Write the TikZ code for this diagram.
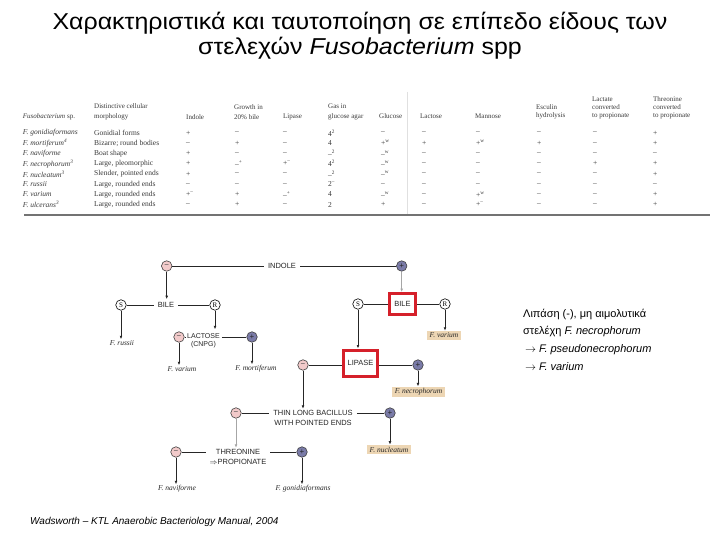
\documentclass[tikz,border=0pt]{standalone}
\usepackage{fontspec}
\setmainfont{Liberation Sans}
\newfontfamily\serifT{Liberation Serif}
\usetikzlibrary{arrows.meta}
\definecolor{minusfill}{HTML}{F2CACA}
\definecolor{plusfill}{HTML}{7A7BA8}
\definecolor{tanbox}{HTML}{EDD6B4}
\definecolor{redbox}{HTML}{D5202A}
\definecolor{tabink}{HTML}{3A3A3A}
\tikzset{
  every node/.style={inner sep=0pt},
  mcirc/.style={circle,draw=black!75,line width=0.6pt,fill=minusfill,minimum size=10.5pt,font=\fontsize{8}{8}\selectfont,text=black!70},
  pcirc/.style={circle,draw=black!75,line width=0.6pt,fill=plusfill,minimum size=10.5pt,font=\fontsize{8}{8}\selectfont,text=black!85},
  lcirc/.style={circle,draw=black,line width=0.6pt,fill=white,minimum size=10.5pt,font=\serifT\fontsize{7}{7}\selectfont},
  keytext/.style={font=\fontsize{7.5}{10}\selectfont,align=center,inner xsep=4pt,inner ysep=1pt,text=black!85},
  spname/.style={font=\serifT\itshape\fontsize{7.5}{8}\selectfont,inner sep=1pt,text=black!85},
  spbox/.style={spname,fill=tanbox,inner xsep=3pt,inner ysep=2pt},
  redframe/.style={keytext,draw=redbox,line width=3pt},
  conn/.style={line width=0.8pt,draw=black!85},
  arr/.style={conn,-{Latex[length=3.5pt,width=2.8pt]}},
  farr/.style={arr,draw=black!35},
  thl/.style={font=\serifT\fontsize{7}{10}\selectfont,text=tabink,anchor=south west,align=left},
  thr/.style={font=\serifT\fontsize{7}{8}\selectfont,text=tabink,anchor=south west,align=left},
  td/.style={font=\serifT\fontsize{7.5}{8}\selectfont,text=tabink,anchor=west},
  titlefont/.style={font=\fontsize{23}{27}\selectfont},
  notefont/.style={font=\fontsize{11}{13}\selectfont,anchor=base west},
}
\begin{document}
\begin{tikzpicture}[x=1pt,y=-1pt]
\useasboundingbox (0,0) rectangle (720,540);
\fill[white] (0,0) rectangle (720,540);

% ---------- title ----------
\node[titlefont,anchor=base] (title1) at (360,30) {\scalebox{1.085}[1]{Χαρακτηριστικά και ταυτοποίηση σε επίπεδο είδους των}};
\node[titlefont,anchor=base] (title2) at (360,55) {\scalebox{1.085}[1]{στελεχών \textit{Fusobacterium} spp}};

% ---------- table ----------
\draw[black!12,line width=0.6pt] (407,92) -- (407,214);
\node[thl] (h1) at (22.7,120) {\textit{Fusobacterium} sp.};
\node[thl] (h2) at (94,120) {Distinctive cellular\\morphology};
\node[thl] (h3) at (186,120) {Indole};
\node[thl] (h4) at (234,120) {Growth in\\20\% bile};
\node[thl] (h5) at (283,120) {Lipase};
\node[thl] (h6) at (328,120) {Gas in\\glucose agar};
\node[thr] (h7) at (379,119) {Glucose};
\node[thr] (h8) at (420,119) {Lactose};
\node[thr] (h9) at (475,119) {Mannose};
\node[thr] (h10) at (536,119) {Esculin\\hydrolysis};
\node[thr] (h11) at (592,119) {Lactate\\converted\\to propionate};
\node[thr] (h12) at (653,119) {Threonine\\converted\\to propionate};
\foreach \i/\n/\m/\a/\b/\c/\d/\e/\f/\g/\h/\k/\l in {
 1/{F. gonidiaformans}/{Gonidial forms}/{+}/{–}/{–}/{4\textsuperscript{2}}/{–}/{–}/{–}/{–}/{–}/{+},
 2/{F. mortiferum\textsuperscript{4}}/{Bizarre; round bodies}/{–}/{+}/{–}/{4}/{+\textsuperscript{w}}/{+}/{+\textsuperscript{w}}/{+}/{–}/{+},
 3/{F. naviforme}/{Boat shape}/{+}/{–}/{–}/{–\textsuperscript{2}}/{–\textsuperscript{w}}/{–}/{–}/{–}/{–}/{–},
 4/{F. necrophorum\textsuperscript{3}}/{Large, pleomorphic}/{+}/{–\textsuperscript{+}}/{+\textsuperscript{–}}/{4\textsuperscript{2}}/{–\textsuperscript{w}}/{–}/{–}/{–}/{+}/{+},
 5/{F. nucleatum\textsuperscript{3}}/{Slender, pointed ends}/{+}/{–}/{–}/{–\textsuperscript{2}}/{–\textsuperscript{w}}/{–}/{–}/{–}/{–}/{+},
 6/{F. russii}/{Large, rounded ends}/{–}/{–}/{–}/{2\textsuperscript{–}}/{–}/{–}/{–}/{–}/{–}/{–},
 7/{F. varium}/{Large, rounded ends}/{+\textsuperscript{–}}/{+}/{–\textsuperscript{+}}/{4}/{–\textsuperscript{w}}/{–}/{+\textsuperscript{w}}/{–}/{–}/{+},
 8/{F. ulcerans\textsuperscript{3}}/{Large, rounded ends}/{–}/{+}/{–}/{2}/{+}/{–}/{+\textsuperscript{–}}/{–}/{–}/{+}}{
  \pgfmathsetmacro\yy{133+10.25*(\i-1)}
  \node[td] (r\i-1) at (22.7,\yy) {\itshape\n};
  \node[td] (r\i-2) at (94,\yy) {\m};
  \node[td] (r\i-3) at (186,\yy) {\a};
  \node[td] (r\i-4) at (235,\yy) {\b};
  \node[td] (r\i-5) at (283,\yy) {\c};
  \node[td] (r\i-6) at (328,\yy) {\d};
  \node[td] (r\i-7) at (381,\yy) {\e};
  \node[td] (r\i-8) at (422,\yy) {\f};
  \node[td] (r\i-9) at (476,\yy) {\g};
  \node[td] (r\i-10) at (537,\yy) {\h};
  \node[td] (r\i-11) at (593,\yy) {\k};
  \node[td] (r\i-12) at (653,\yy) {\l};
}
\draw[black!55,line width=1.3pt] (24,215) -- (710,215);

% ---------- identification key ----------
\node[mcirc] (m1) at (166.7,266) {−};
\node[keytext] (indole) at (282,266) {INDOLE};
\node[pcirc] (p1) at (401.7,266) {+};
\draw[conn] (m1) -- (indole) -- (p1);

% left branch
\node[keytext] (bileL) at (166,305) {BILE};
\node[lcirc] (sL) at (121,305) {S};
\node[lcirc] (rL) at (215,305) {R};
\draw[conn] (sL) -- (bileL) -- (rL);
\draw[arr,shorten >=2pt] (m1) -- (m1 |- bileL.north);
\node[spname] (russii) at (122,343) {F. russii};
\draw[arr] (sL) -- (sL |- russii.north);

\node[keytext,inner xsep=2pt,font=\fontsize{7}{8.5}\selectfont] (lac) at (203.5,341) {LACTOSE\\(CNPG)};
\node[mcirc] (lm) at (179,337) {−};
\node[pcirc] (lp) at (252,337) {+};
\draw[conn] (lm) -- (lm -| lac.west);
\draw[conn] (lac.east |- lp) -- (lp);
\draw[arr,shorten >=3pt] (rL) -- (rL |- lac.north);
\node[spname] (varL) at (182,369) {F. varium};
\node[spname] (mort) at (256,369) {F. mortiferum};
\draw[arr] (lm) -- (lm |- varL.north);
\draw[arr] (lp) -- (lp |- mort.north);

% right branch
\node[redframe,minimum width=26pt,minimum height=21pt] (bileR) at (402.5,304) {BILE};
\node[lcirc] (sR) at (358,304) {S};
\node[lcirc] (rR) at (445,304) {R};
\draw[conn] (sR) -- (bileR) -- (rR);
\draw[farr] (p1) -- (p1 |- bileR.north);
\node[spbox] (varR) at (444,335.5) {F. varium};
\draw[arr] (rR) -- (rR |- varR.north);

\node[redframe,minimum width=33pt,minimum height=26pt] (lip) at (360.5,363) {LIPASE};
\node[mcirc] (lipm) at (303,365) {−};
\node[pcirc] (lipp) at (418,365) {+};
\draw[arr] (sR) -- (sR |- lip.north);
\draw[conn] (lipm) -- (lipm -| lip.west);
\draw[conn] (lip.east |- lipp) -- (lipp);
\node[spbox] (necro) at (418.5,392) {F. necrophorum};
\draw[arr] (lipp) -- (lipp |- necro.north);

\node[keytext] (thin) at (313,417.7) {THIN LONG BACILLUS\\WITH POINTED ENDS};
\node[mcirc] (thm) at (236,413) {−};
\node[pcirc] (thp) at (390,413) {+};
\draw[conn] (thm) -- (thm -| thin.west);
\draw[conn] (thin.east |- thp) -- (thp);
\draw[arr] (lipm) -- (lipm |- thin.north);
\node[spbox] (nucl) at (389,449.5) {F. nucleatum};
\draw[arr] (thp) -- (thp |- nucl.north);

\node[keytext] (thr) at (238,456.7) {THREONINE\\$\Rightarrow$PROPIONATE};
\node[mcirc] (trm) at (176,452) {−};
\node[pcirc] (trp) at (302,452) {+};
\draw[farr] (thm) -- (thm |- thr.north);
\draw[conn] (trm) -- (trm -| thr.west);
\draw[conn] (thr.east |- trp) -- (trp);
\node[spname] (navi) at (177,489) {F. naviforme};
\node[spname] (goni) at (303,489) {F. gonidiaformans};
\draw[arr] (trm) -- (trm |- navi.north);
\draw[arr] (trp) -- (trp |- goni.north);

% ---------- side note ----------
\node[notefont] (note1) at (523,317) {Λιπάση (-), μη αιμολυτικά};
\node[notefont] (note2) at (523,334.7) {στελέχη \textit{F. necrophorum}};
\node[notefont] (note3) at (525,352.4) {$\rightarrow$ \textit{F. pseudonecrophorum}};
\node[notefont] (note4) at (525,370.1) {$\rightarrow$ \textit{F. varium}};

% ---------- citation ----------
\node[font=\fontsize{10}{12}\selectfont\itshape,anchor=base west] (cite) at (30,524) {Wadsworth – KTL Anaerobic Bacteriology Manual, 2004};
\end{tikzpicture}
\end{document}
